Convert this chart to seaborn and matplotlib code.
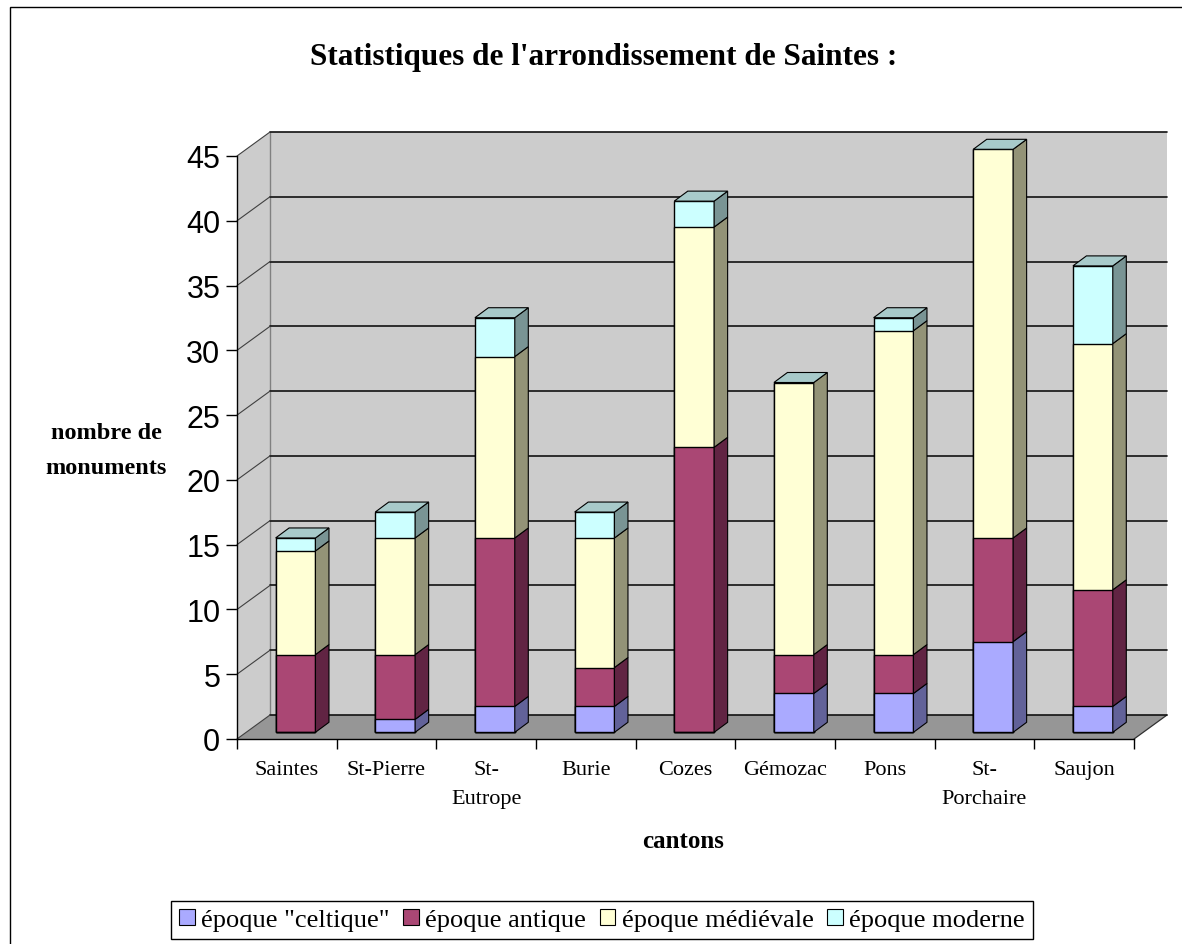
"""
Statistiques de l'arrondissement de Saintes : monuments par canton et par époque.
Stacked bars with a fake 3D look (Excel style), drawn with seaborn.
"""
import matplotlib

matplotlib.use("Agg")
import matplotlib.pyplot as plt
import numpy as np
import seaborn as sns
from matplotlib.patches import Polygon, Rectangle
from matplotlib.transforms import ScaledTranslation

# --- data -----------------------------------------------------------------
cantons = ["Saintes", "St-Pierre", "St-\nEutrope", "Burie", "Cozes",
           "Gémozac", "Pons", "St-\nPorchaire", "Saujon"]
celtique = [0, 1, 2, 2, 0, 3, 3, 7, 2]
antique = [6, 5, 13, 3, 22, 3, 3, 8, 9]
medievale = [8, 9, 14, 10, 17, 21, 25, 30, 19]
moderne = [1, 2, 3, 2, 2, 0, 1, 0, 6]

series_names = ['époque "celtique"', "époque antique",
                "époque médiévale", "époque moderne"]
y_ticks = [0, 5, 10, 15, 20, 25, 30, 35, 40, 45]

# --- style ----------------------------------------------------------------
front_colors = ["#AAAAFF", "#AA4774", "#FFFFD5", "#CCFFFF"]
side_colors = ["#626299", "#612443", "#939377", "#799494"]
top_color = "#A8CACA"
wall_color = "#CCCCCC"
floor_color = "#969696"

W, H = 1182, 945
AX_L, AX_R, Y_BOT, Y_TOP = 237, 1134, 740, 157   # pixel frame of the front plane
PX_X = (AX_R - AX_L) / 9.0                       # pixels per category
PX_Y = (Y_BOT - Y_TOP) / 45.0                    # pixels per unit

sns.set_style("white")
plt.rcParams["font.family"] = ["Liberation Serif", "DejaVu Serif"]
plt.rcParams["text.color"] = "black"
plt.rcParams["axes.labelcolor"] = "black"
plt.rcParams["xtick.color"] = "black"
plt.rcParams["ytick.color"] = "black"

fig = plt.figure(figsize=(W / 100, H / 100), dpi=100)
ax = fig.add_axes([AX_L / W, (H - Y_BOT) / H, (AX_R - AX_L) / W, (Y_BOT - Y_TOP) / H])
ax.patch.set_visible(False)

# depth offsets, converted from pixels to data units
wall_dx, wall_dy = 33 / PX_X, 24 / PX_Y
bar_dx, bar_dy = 13.5 / PX_X, 10 / PX_Y

# --- walls and floor ------------------------------------------------------
ax.add_patch(Polygon([(-0.5, 0), (8.5, 0), (8.5 + wall_dx, wall_dy), (-0.5 + wall_dx, wall_dy)],
                     closed=True, facecolor=floor_color, edgecolor="none", zorder=0.5, clip_on=False))
ax.add_patch(Rectangle((-0.5 + wall_dx, wall_dy), 9, 45, facecolor=wall_color,
                       edgecolor="none", zorder=0.4, clip_on=False))
ax.add_patch(Polygon([(-0.5, 0), (-0.5, 45), (-0.5 + wall_dx, 45 + wall_dy), (-0.5 + wall_dx, wall_dy)],
                     closed=True, facecolor=wall_color, edgecolor="none", zorder=0.4, clip_on=False))
ax.plot([-0.5 + wall_dx] * 2, [wall_dy, 45 + wall_dy], color="#808080", lw=1, zorder=0.8, clip_on=False)
ax.plot([8.5, 8.5 + wall_dx], [0, wall_dy], color="#303030", lw=0.9, zorder=0.8, clip_on=False)
for v in y_ticks:
    ax.plot([-0.5 + wall_dx, 8.5 + wall_dx], [v + wall_dy] * 2, color="#111111", lw=1.2,
            zorder=0.8, clip_on=False)
    ax.plot([-0.5, -0.5 + wall_dx], [v, v + wall_dy], color="#404040", lw=0.8,
            zorder=0.8, clip_on=False)

# --- bars (cumulative layers, tallest first) -------------------------------
layers = np.cumsum(np.array([celtique, antique, medievale, moderne]), axis=0)
shift = ax.transData + ScaledTranslation(8.7 / 100, 6.7 / 100, fig.dpi_scale_trans)

front = None
for k in reversed(range(4)):
    n_before = len(ax.patches)
    sns.barplot(x=cantons, y=layers[k], order=cantons, color=front_colors[k], saturation=1,
                width=0.4, edgecolor="black", linewidth=1, ax=ax, zorder=2)
    new = ax.patches[n_before:]
    for p in new:
        p.set_transform(shift)
        p.set_clip_on(False)
    if front is None:
        front = sorted(new, key=lambda p: p.get_x())

# side and top faces, derived from the seaborn bars
for i, p in enumerate(front):
    x1 = p.get_x() + p.get_width()
    x0 = p.get_x()
    lo = 0.0
    for k in range(4):
        hi = float(layers[k][i])
        if hi > lo:
            ax.add_patch(Polygon([(x1, lo), (x1, hi), (x1 + bar_dx, hi + bar_dy), (x1 + bar_dx, lo + bar_dy)],
                                 closed=True, facecolor=side_colors[k], edgecolor="black",
                                 lw=0.8, transform=shift, zorder=2, clip_on=False))
        lo = hi
    top = float(layers[3][i])
    ax.add_patch(Polygon([(x0, top), (x1, top), (x1 + bar_dx, top + bar_dy), (x0 + bar_dx, top + bar_dy)],
                         closed=True, facecolor=top_color, edgecolor="black",
                         lw=0.8, transform=shift, zorder=2, clip_on=False))

# --- axes -----------------------------------------------------------------
ax.set_xlim(-0.5, 8.5)
ax.set_ylim(0, 45)
ax.set_xlabel("")
ax.set_ylabel("")
for side in ["top", "right"]:
    ax.spines[side].set_visible(False)
for side in ["left", "bottom"]:
    ax.spines[side].set_color("black")
    ax.spines[side].set_linewidth(1)
    ax.spines[side].set_zorder(3)

ax.set_yticks(y_ticks)
ax.set_yticklabels([str(v) for v in y_ticks], fontfamily="Liberation Sans", fontsize=22)
ax.tick_params(axis="y", length=8, width=1, color="black", pad=4, left=True)

ax.set_xticks(range(len(cantons)))
ax.set_xticklabels(cantons, fontsize=16, va="top")
ax.set_xticks(np.arange(-0.5, 9, 1), minor=True)
ax.tick_params(axis="x", which="major", length=0, pad=15, bottom=True)
ax.tick_params(axis="x", which="minor", length=7, width=1, color="black", bottom=True)
for t in ax.xaxis.get_major_ticks():
    t.label1.set_linespacing(1.75)

# --- texts ----------------------------------------------------------------
fig.text(604 / W, 1 - 57 / H, "Statistiques de l'arrondissement de Saintes :",
         ha="center", va="center", fontsize=22.5, fontweight="bold")
fig.text(106 / W, 1 - 451 / H, "nombre de\nmonuments", ha="center", va="center",
         fontsize=17.5, fontweight="bold", linespacing=1.85)
fig.text(683 / W, 1 - 842 / H, "cantons", ha="center", va="center",
         fontsize=18, fontweight="bold")

handles = [Rectangle((0, 0), 1, 1, facecolor=c, edgecolor="black", lw=0.8) for c in front_colors]
leg = fig.legend(handles, series_names, loc="center", bbox_to_anchor=(602 / W, 1 - 921 / H),
                 ncol=4, frameon=True, fancybox=False, framealpha=1, edgecolor="black",
                 handlelength=0.6, handleheight=0.6, handletextpad=0.25, columnspacing=0.5,
                 borderpad=0.3, prop={"size": 19})
leg.get_frame().set_linewidth(1)

# chart-area frame (left and top edges fall inside the image)
fig.patches.append(Rectangle((10 / W, -0.1), 1.2, 1 - 8 / H + 0.1, transform=fig.transFigure,
                             fill=False, edgecolor="black", lw=1))

fig.savefig("out.png", dpi=100)
plt.close(fig)
